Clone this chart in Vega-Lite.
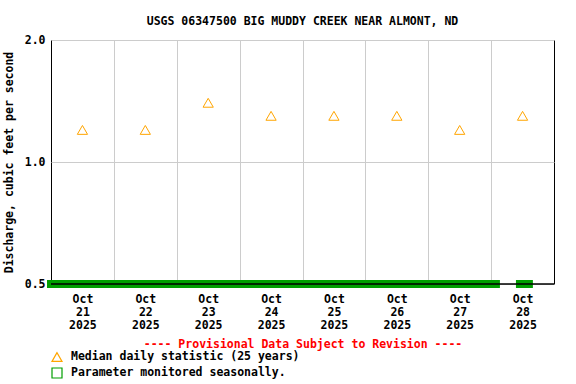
{
  "$schema": "https://vega.github.io/schema/vega-lite/v6.json",
  "width": 503,
  "height": 244,
  "autosize": {"type": "none"},
  "padding": {"left": 51, "top": 40, "right": 22, "bottom": 100},
  "background": "white",
  "title": {
    "text": "USGS 06347500 BIG MUDDY CREEK NEAR ALMONT, ND",
    "font": "DejaVu Sans Mono",
    "fontSize": 11.5,
    "fontWeight": "bold",
    "color": "black",
    "anchor": "middle",
    "offset": 7
  },
  "config": {
    "view": {"stroke": "black", "strokeWidth": 1},
    "font": "DejaVu Sans Mono"
  },
  "datasets": {
    "median": [
      {"date": "2025-10-21T12:00:00", "value": 1.2, "series": "Median daily statistic (25 years)"},
      {"date": "2025-10-22T12:00:00", "value": 1.2, "series": "Median daily statistic (25 years)"},
      {"date": "2025-10-23T12:00:00", "value": 1.4, "series": "Median daily statistic (25 years)"},
      {"date": "2025-10-24T12:00:00", "value": 1.3, "series": "Median daily statistic (25 years)"},
      {"date": "2025-10-25T12:00:00", "value": 1.3, "series": "Median daily statistic (25 years)"},
      {"date": "2025-10-26T12:00:00", "value": 1.3, "series": "Median daily statistic (25 years)"},
      {"date": "2025-10-27T12:00:00", "value": 1.2, "series": "Median daily statistic (25 years)"},
      {"date": "2025-10-28T12:00:00", "value": 1.3, "series": "Median daily statistic (25 years)"}
    ],
    "seasonal": [
      {"start": "2025-10-21T00:00:00", "end": "2025-10-28T01:50:00", "series": "Parameter monitored seasonally."},
      {"start": "2025-10-28T11:00:00", "end": "2025-10-28T14:25:00", "series": "Parameter monitored seasonally."}
    ]
  },
  "layer": [
    {
      "data": {"name": "seasonal"},
      "mark": {"type": "rule", "strokeWidth": 8, "strokeCap": "square"},
      "encoding": {
        "x": {
          "field": "start",
          "type": "temporal",
          "scale": {"domain": [{"year": 2025, "month": 10, "date": 21}, {"year": 2025, "month": 10, "date": 29}]},
          "axis": {
            "orient": "top",
            "title": null,
            "labels": false,
            "ticks": false,
            "domain": false,
            "grid": true,
            "gridColor": "#cccccc",
            "gridWidth": 1,
            "values": [
              {"year": 2025, "month": 10, "date": 22},
              {"year": 2025, "month": 10, "date": 23},
              {"year": 2025, "month": 10, "date": 24},
              {"year": 2025, "month": 10, "date": 25},
              {"year": 2025, "month": 10, "date": 26},
              {"year": 2025, "month": 10, "date": 27},
              {"year": 2025, "month": 10, "date": 28}
            ]
          }
        },
        "x2": {"field": "end"},
        "y": {"datum": 0.5, "type": "quantitative"},
        "color": {
          "field": "series",
          "type": "nominal",
          "scale": {
            "domain": ["Median daily statistic (25 years)", "Parameter monitored seasonally."],
            "range": ["#FFA500", "#009E00"]
          },
          "legend": {
            "title": null,
            "orient": "none",
            "legendX": 0,
            "legendY": 311,
            "labelFont": "DejaVu Sans Mono",
            "labelFontSize": 11.5,
            "labelFontWeight": "bold",
            "labelColor": "black",
            "labelOffset": 8,
            "labelLimit": 500,
            "rowPadding": 1,
            "symbolSize": 100,
            "symbolStrokeWidth": 1.2,
            "symbolFillColor": "transparent",
            "encode": {
              "symbols": {
                "update": {
                  "shape": {"signal": "datum.value === 'Median daily statistic (25 years)' ? 'triangle-up' : 'square'"},
                  "fill": {"value": "transparent"}
                }
              }
            }
          }
        }
      }
    },
    {
      "data": {"name": "seasonal"},
      "mark": {"type": "rule", "color": "black", "strokeWidth": 1},
      "encoding": {
        "y": {"datum": 0.5, "type": "quantitative"}
      }
    },
    {
      "data": {"name": "median"},
      "mark": {"type": "point", "shape": "triangle-up", "filled": false, "size": 105, "strokeWidth": 1, "opacity": 1},
      "encoding": {
        "x": {
          "field": "date",
          "type": "temporal",
          "axis": {
            "orient": "bottom",
            "title": "---- Provisional Data Subject to Revision ----",
            "titleColor": "#FF0000",
            "titleFont": "DejaVu Sans Mono",
            "titleFontSize": 11.5,
            "titleFontWeight": "bold",
            "titlePadding": 8,
            "labels": true,
            "ticks": false,
            "domain": false,
            "grid": false,
            "labelFont": "DejaVu Sans Mono",
            "labelFontSize": 11.5,
            "labelFontWeight": "bold",
            "labelColor": "black",
            "labelAlign": "center",
            "labelBaseline": "top",
            "labelLineHeight": 13,
            "labelPadding": 9,
            "labelOverlap": false,
            "labelBound": false,
            "labelFlush": false,
            "values": [
              {"year": 2025, "month": 10, "date": 21, "hours": 12},
              {"year": 2025, "month": 10, "date": 22, "hours": 12},
              {"year": 2025, "month": 10, "date": 23, "hours": 12},
              {"year": 2025, "month": 10, "date": 24, "hours": 12},
              {"year": 2025, "month": 10, "date": 25, "hours": 12},
              {"year": 2025, "month": 10, "date": 26, "hours": 12},
              {"year": 2025, "month": 10, "date": 27, "hours": 12},
              {"year": 2025, "month": 10, "date": 28, "hours": 12}
            ],
            "labelExpr": "[timeFormat(datum.value, '%b'), timeFormat(datum.value, '%d'), timeFormat(datum.value, '%Y')]"
          }
        },
        "y": {
          "field": "value",
          "type": "quantitative",
          "scale": {"type": "log", "domain": [0.5, 2], "nice": false},
          "axis": {
            "title": "Discharge, cubic feet per second",
            "titleFont": "DejaVu Sans Mono",
            "titleFontSize": 11.5,
            "titleFontWeight": "bold",
            "titleColor": "black",
            "titlePadding": 10,
            "values": [0.5, 1, 2],
            "format": ".1f",
            "ticks": false,
            "domain": false,
            "grid": true,
            "gridColor": "#cccccc",
            "labelFont": "DejaVu Sans Mono",
            "labelFontSize": 11.5,
            "labelFontWeight": "bold",
            "labelColor": "black",
            "labelPadding": 6,
            "labelFlush": false
          }
        },
        "color": {"field": "series", "type": "nominal"}
      }
    }
  ],
  "resolve": {"axis": {"x": "independent"}}
}
